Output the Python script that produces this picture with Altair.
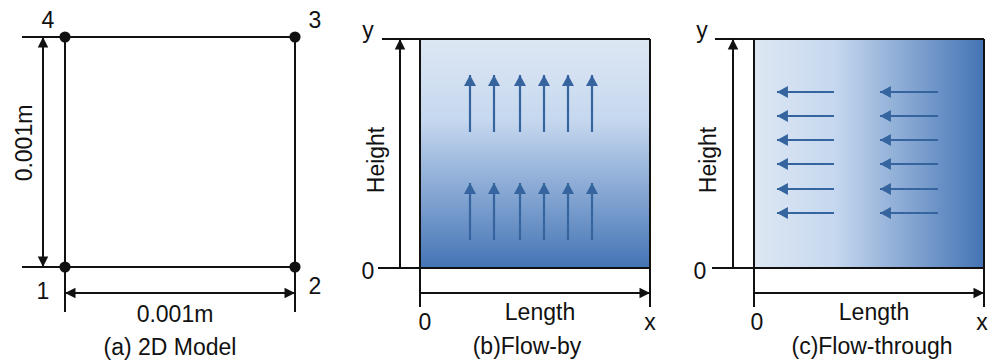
import altair as alt
import pandas as pd

W, H = 992, 364

# ---- black line segments (x, y, x2, y2) ----
seg_x1 = [65, 65, 65, 295, 22, 22, 43, 65,
          382, 378, 420, 650, 400, 420,
          715, 712, 754, 984, 733, 754]
seg_y1 = [37, 267, 37, 37, 37, 267, 37, 293,
          39, 268, 39, 39, 268, 293,
          39, 268, 39, 39, 268, 293]
seg_x2 = [295, 295, 65, 295, 65, 65, 43, 295,
          650, 650, 420, 650, 400, 650,
          984, 984, 754, 984, 733, 984]
seg_y2 = [37, 267, 312, 312, 37, 267, 267, 293,
          39, 268, 307, 307, 39, 293,
          39, 268, 307, 307, 39, 293]

# ---- black arrowheads (tip position, direction angle) ----
head_x = [43, 43, 65, 295, 400, 650, 733, 984]
head_y = [37, 267, 293, 293, 39, 293, 39, 293]
head_a = [270, 90, 180, 0, 270, 0, 270, 0]

# ---- corner nodes of the 2D model ----
node_x = [65, 295, 295, 65]
node_y = [267, 267, 37, 37]

# ---- gradient domains ----
rect_x1 = [420, 754]
rect_x2 = [650, 984]
rect_y1 = [39, 39]
rect_y2 = [268, 268]

# ---- flow arrows: (b) flow-by (vertical up) ----
fb_x = [470, 494, 520, 544, 568, 592]
fb_tail = [132, 240]
fb_tip = [75, 183]
# ---- flow arrows: (c) flow-through (horizontal left) ----
ft_y = [92, 116, 140, 164, 189, 213]
ft_tail = [834, 938]
ft_tip = [777, 880]

# ---- labels ----
lab_text = ["4", "3", "1", "2", "0.001m", "(a) 2D Model",
            "y", "0", "0", "Length", "x", "(b)Flow-by",
            "y", "0", "0", "Length", "x", "(c)Flow-through"]
lab_x = [48, 315, 43, 315, 175, 170,
         368, 368, 425, 540, 650, 527,
         702, 700, 757, 874, 982, 872]
lab_y = [21, 21, 292, 287, 315, 348,
         31, 272, 323, 313, 323, 347,
         31, 272, 323, 313, 323, 347]
rot_text = ["0.001m", "Height", "Height"]
rot_x = [25, 377, 709]
rot_y = [143, 160, 160]

# ---------------- build tables ----------------
segs = pd.DataFrame({"x": seg_x1, "y": seg_y1, "x2": seg_x2, "y2": seg_y2})
heads = pd.DataFrame({"x": head_x, "y": head_y, "a": head_a})
nodes = pd.DataFrame({"x": node_x, "y": node_y})
rects = pd.DataFrame({"x": rect_x1, "x2": rect_x2, "y": rect_y1, "y2": rect_y2})

fl_rows, fh_rows = [], []
for tail, tip in zip(fb_tail, fb_tip):
    for xx in fb_x:
        fl_rows.append({"x": xx, "y": tail, "x2": xx, "y2": tip})
        fh_rows.append({"x": xx, "y": tip, "a": 270})
for tail, tip in zip(ft_tail, ft_tip):
    for yy in ft_y:
        fl_rows.append({"x": tail, "y": yy, "x2": tip, "y2": yy})
        fh_rows.append({"x": tip, "y": yy, "a": 180})
flow_lines = pd.DataFrame(fl_rows)
flow_heads = pd.DataFrame(fh_rows)

labels = pd.DataFrame({"x": lab_x, "y": lab_y, "t": lab_text})
rlabels = pd.DataFrame({"x": rot_x, "y": rot_y, "t": rot_text})

xs = alt.Scale(domain=[0, W], nice=False, zero=False)
ys = alt.Scale(domain=[0, H], nice=False, zero=False, reverse=True)
X = alt.X("x:Q", scale=xs, axis=None)
Y = alt.Y("y:Q", scale=ys, axis=None)

ARROW = "M0,0 L-1,-0.5 L-1,0.5 Z"
ARROW_W = "M0,0 L-1,-0.55 L-1,0.55 Z"
FONT = "Liberation Sans"
TXT = "#111111"
FS = 23

stops = [alt.GradientStop(offset=0, color="#dde7f3"),
         alt.GradientStop(offset=0.35, color="#c6d8ef"),
         alt.GradientStop(offset=1, color="#4474b5")]
grad_v = alt.Gradient(gradient="linear", x1=0, x2=0, y1=0, y2=1, stops=stops)
grad_h = alt.Gradient(gradient="linear", x1=0, x2=1, y1=0, y2=0, stops=stops)

rect_b = alt.Chart(rects.iloc[[0]]).mark_rect(fill=grad_v).encode(
    x=X, x2="x2:Q", y=Y, y2="y2:Q")
rect_c = alt.Chart(rects.iloc[[1]]).mark_rect(fill=grad_h).encode(
    x=X, x2="x2:Q", y=Y, y2="y2:Q")

lines = alt.Chart(segs).mark_rule(color="#111111", strokeWidth=2).encode(
    x=X, x2="x2:Q", y=Y, y2="y2:Q")
arrowheads = alt.Chart(heads).mark_point(
    shape=ARROW, filled=True, color="#111111", size=440, opacity=1).encode(
    x=X, y=Y, angle=alt.Angle("a:Q", scale=None))
dots = alt.Chart(nodes).mark_point(
    shape="circle", filled=True, color="#111111", size=125, opacity=1).encode(x=X, y=Y)

flines = alt.Chart(flow_lines).mark_rule(color="#36649f", strokeWidth=2.2).encode(
    x=X, x2="x2:Q", y=Y, y2="y2:Q")
fheads = alt.Chart(flow_heads).mark_point(
    shape=ARROW_W, filled=True, color="#36649f", size=480, opacity=1).encode(
    x=X, y=Y, angle=alt.Angle("a:Q", scale=None))

texts = alt.Chart(labels).mark_text(
    font=FONT, fontSize=FS, color=TXT, align="center", baseline="middle").encode(
    x=X, y=Y, text="t:N")
rtexts = alt.Chart(rlabels).mark_text(
    font=FONT, fontSize=FS, color=TXT, align="center", baseline="middle", angle=270).encode(
    x=X, y=Y, text="t:N")

chart = alt.layer(rect_b, rect_c, flines, fheads, lines, arrowheads, dots, texts, rtexts).properties(
    width=W, height=H, autosize=alt.AutoSizeParams(type="none"), padding=0,
    background="white"
).configure_view(strokeWidth=0)

chart.save("out.html", embed_options={"renderer": "svg", "actions": False})
